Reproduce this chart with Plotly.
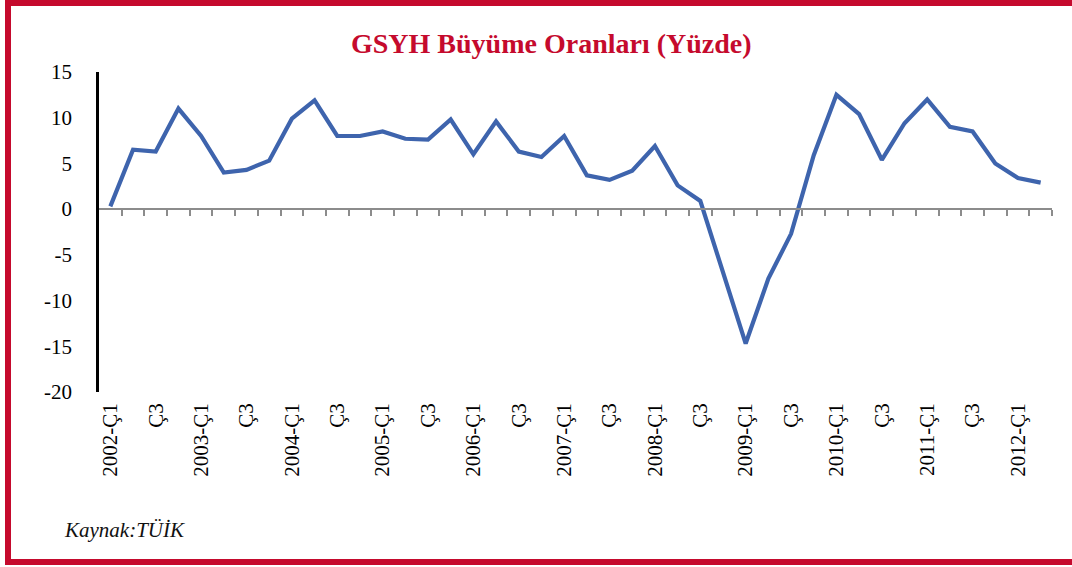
import numpy as np
import plotly.graph_objects as go

# ---- data ----
years = list(range(2002, 2013))
quarters = ["Ç1", "Ç2", "Ç3", "Ç4"]
periods = [f"{y}-{q}" for y in years for q in quarters][:42]   # 2002-Ç1 .. 2012-Ç2
growth = [0.3, 6.5, 6.3, 11.0, 8.0, 4.0, 4.3, 5.3, 9.9, 11.9,
          8.0, 8.0, 8.5, 7.7, 7.6, 9.8, 6.0, 9.6, 6.3, 5.7,
          8.0, 3.7, 3.2, 4.2, 6.9, 2.6, 0.9, -7.0, -14.7, -7.6,
          -2.7, 5.9, 12.5, 10.4, 5.4, 9.4, 12.0, 9.0, 8.5, 5.0,
          3.4, 2.9]
tick_labels = [p if p.endswith("Ç1") else p.split("-")[1] for p in periods]

title_text = "GSYH Büyüme Oranları (Yüzde)"
source_text = "Kaynak:TÜİK"
y_range = [-20, 15]
y_ticks = [15, 10, 5, 0, -5, -10, -15, -20]
y_tick_text = [str(v) for v in y_ticks]   # plain hyphen minus as in the source

# ---- layout geometry ----
W, H = 1072, 567
ML, MR, MT, MB = 99, W - 1052, 72, H - 392
plot_w = W - ML - MR
plot_h = H - MT - MB
RED = "#C50A2D"
BLUE = "#3E64AD"
FONT = "Liberation Serif, Times New Roman, serif"

def px_x(px):
    return (px - ML) / plot_w

def px_y(py):
    return (H - MB - py) / plot_h

idx = np.arange(len(periods))
fig = go.Figure()
fig.add_trace(go.Scatter(
    x=idx, y=growth, mode="lines",
    line=dict(color=BLUE, width=4.2),
    hoverinfo="skip", showlegend=False,
))
# invisible trace for the zero axis with its tick marks
fig.add_trace(go.Scatter(x=idx, y=growth, xaxis="x2", mode="lines",
                         line=dict(width=0), opacity=0, showlegend=False,
                         hoverinfo="skip"))

x_range = [-0.5, len(periods) - 0.5]
zero_pos = (0 - y_range[0]) / (y_range[1] - y_range[0])

frame_left, frame_right, frame_top, frame_bottom = 8, W, 3, 562
frame_line = dict(color=RED, width=6)
frame = [
    dict(type="line", xref="paper", yref="paper", layer="above",
         x0=px_x(frame_left), x1=px_x(frame_left),
         y0=px_y(frame_bottom + 3), y1=px_y(frame_top - 3), line=frame_line),
    dict(type="line", xref="paper", yref="paper", layer="above",
         x0=px_x(frame_left - 3), x1=px_x(frame_right),
         y0=px_y(frame_top), y1=px_y(frame_top), line=frame_line),
    dict(type="line", xref="paper", yref="paper", layer="above",
         x0=px_x(frame_left - 3), x1=px_x(frame_right),
         y0=px_y(frame_bottom), y1=px_y(frame_bottom), line=frame_line),
]

fig.update_layout(
    width=W, height=H,
    margin=dict(l=ML, r=MR, t=MT, b=MB),
    paper_bgcolor="white", plot_bgcolor="white",
    font=dict(family=FONT, size=21, color="black"),
    xaxis=dict(
        range=x_range, tickmode="array",
        tickvals=[i for i in idx if i % 2 == 0],
        ticktext=[tick_labels[i] for i in idx if i % 2 == 0],
        tickangle=-90, showgrid=False, zeroline=False, showline=False,
        ticks="", ticklabelstandoff=6,
        tickfont=dict(family=FONT, size=21, color="black"),
    ),
    xaxis2=dict(
        range=x_range, overlaying="x", anchor="free", position=zero_pos,
        side="bottom", showline=True, linecolor="#8C8C8C", linewidth=2,
        tickmode="array", tickvals=list(np.arange(0.5, len(periods), 1.0)),
        ticks="outside", ticklen=6, tickwidth=1.5, tickcolor="#8C8C8C",
        showticklabels=False, showgrid=False, zeroline=False,
    ),
    yaxis=dict(
        range=y_range, tickmode="array", tickvals=y_ticks, ticktext=y_tick_text,
        showgrid=False, zeroline=False, showline=True,
        linecolor="black", linewidth=2.5, ticks="",
        ticklabelstandoff=20,
        tickfont=dict(family=FONT, size=21, color="black"),
    ),
    shapes=frame,
    annotations=[
        dict(text=f"<b>{title_text}</b>", xref="paper", yref="paper",
             x=px_x(551), y=px_y(43), xanchor="center", yanchor="middle",
             showarrow=False, font=dict(family=FONT, size=28, color=RED)),
        dict(text=f"<i>{source_text}</i>", xref="paper", yref="paper",
             x=px_x(62), y=px_y(530), xanchor="left", yanchor="middle",
             showarrow=False, font=dict(family=FONT, size=21, color="#111111")),
    ],
)

fig.write_html("out.html", config={"displayModeBar": False},
               post_script="document.body.style.margin='0';document.body.style.overflow='hidden';")
